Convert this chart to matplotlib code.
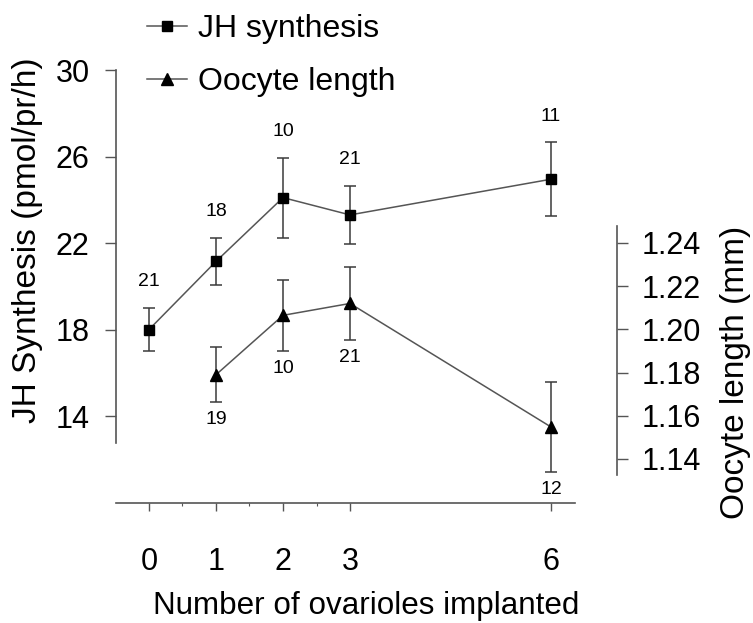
import matplotlib
matplotlib.use("Agg")
import matplotlib.pyplot as plt

plt.rcParams['font.family'] = ['Liberation Sans', 'DejaVu Sans']

# ---- data ----
x_jh = [0, 1, 2, 3, 6]
jh_mean = [18.0, 21.15, 24.1, 23.3, 24.95]
jh_err = [1.0, 1.1, 1.85, 1.33, 1.7]
jh_n = ['21', '18', '10', '21', '11']

x_oo = [1, 2, 3, 6]
oo_mean = [1.179, 1.2065, 1.212, 1.1548]
oo_err = [0.0127, 0.0164, 0.017, 0.021]
oo_n = ['19', '10', '21', '12']

xticks = [0, 1, 2, 3, 6]
left_ticks = [14, 18, 22, 26, 30]
right_ticks = [1.14, 1.16, 1.18, 1.20, 1.22, 1.24]

W, H = 753, 623
fig = plt.figure(figsize=(W / 100, H / 100), dpi=100)
L, R, T, B = 116, 617, 70, 503
ax = fig.add_axes([L / W, (H - B) / H, (R - L) / W, (B - T) / H])
ax2 = ax.twinx()

spine_c = '#555555'
line_c = '#555555'
err_c = '#3a3a3a'

ax.set_xlim(-0.4925, 6.985)
ax.set_ylim(9.98, 30.0)
ax2.set_ylim(1.1196, 1.3201)

# JH synthesis
ax.errorbar(x_jh, jh_mean, yerr=jh_err, fmt='none', ecolor=err_c, elinewidth=1.1,
            capsize=4, capthick=1.1, zorder=2)
h1, = ax.plot(x_jh, jh_mean, color=line_c, lw=1.1, marker='s', ms=7.5,
              mfc='black', mec='black', zorder=3)
for xi, yi, ei, n in zip(x_jh, jh_mean, jh_err, jh_n):
    ax.annotate(n, (xi, yi + ei), xytext=(0, 19), textcoords='offset points',
                ha='center', va='center', fontsize=14)

# Oocyte length
ax2.errorbar(x_oo, oo_mean, yerr=oo_err, fmt='none', ecolor=err_c, elinewidth=1.1,
             capsize=4, capthick=1.1, zorder=2)
h2, = ax2.plot(x_oo, oo_mean, color=line_c, lw=1.1, marker='^', ms=9,
               mfc='black', mec='black', zorder=3)
for xi, yi, ei, n in zip(x_oo, oo_mean, oo_err, oo_n):
    ax2.annotate(n, (xi, yi - ei), xytext=(0, -12.5), textcoords='offset points',
                 ha='center', va='center', fontsize=14)

# spines
for a in (ax, ax2):
    a.spines['top'].set_visible(False)
    a.patch.set_visible(False)
ax.spines['right'].set_visible(False)
ax2.spines['left'].set_visible(False)
ax2.spines['bottom'].set_visible(False)
for s in ('left', 'bottom'):
    ax.spines[s].set_color(spine_c)
    ax.spines[s].set_linewidth(1.2)
ax2.spines['right'].set_color(spine_c)
ax2.spines['right'].set_linewidth(1.2)
ax.spines['left'].set_bounds(12.75, 30)
ax.spines['bottom'].set_bounds(-0.49, 6.36)
ax2.spines['right'].set_bounds(1.1326, 1.248)

ax.set_xticks(xticks)
ax.set_xticks([0.5, 1.5, 2.5], minor=True)
ax.set_yticks(left_ticks)
ax2.set_yticks(right_ticks)
ax2.set_yticklabels([f'{v:.2f}' for v in right_ticks])

ax.tick_params(axis='x', which='major', direction='out', length=6, width=1,
               color=spine_c, labelsize=22, pad=26)
ax.tick_params(axis='x', which='minor', direction='out', length=2.5, width=0.8,
               color=spine_c)
ax.tick_params(axis='y', direction='out', length=8, width=1, color=spine_c,
               labelsize=22, pad=11)
ax2.tick_params(axis='y', direction='out', length=8, width=1, color=spine_c,
                labelsize=22, pad=10)

ax.set_xlabel('Number of ovarioles implanted', fontsize=22.6, labelpad=10)
ax.set_ylabel('JH Synthesis (pmol/pr/h)', fontsize=24)
ax.yaxis.set_label_coords(-0.1457, 0.607)
ax2.set_ylabel('Oocyte length (mm)', fontsize=24)
ax2.yaxis.set_label_coords(1.2056, 0.3025)

fig.legend([h1, h2], ['JH synthesis', 'Oocyte length'], loc='upper left',
           bbox_to_anchor=(147 / W, 1 - 14 / H), frameon=False, fontsize=23,
           handlelength=1.25, handletextpad=0.34, labelspacing=0.72,
           borderpad=0, borderaxespad=0)

fig.savefig('out.png', dpi=100)
